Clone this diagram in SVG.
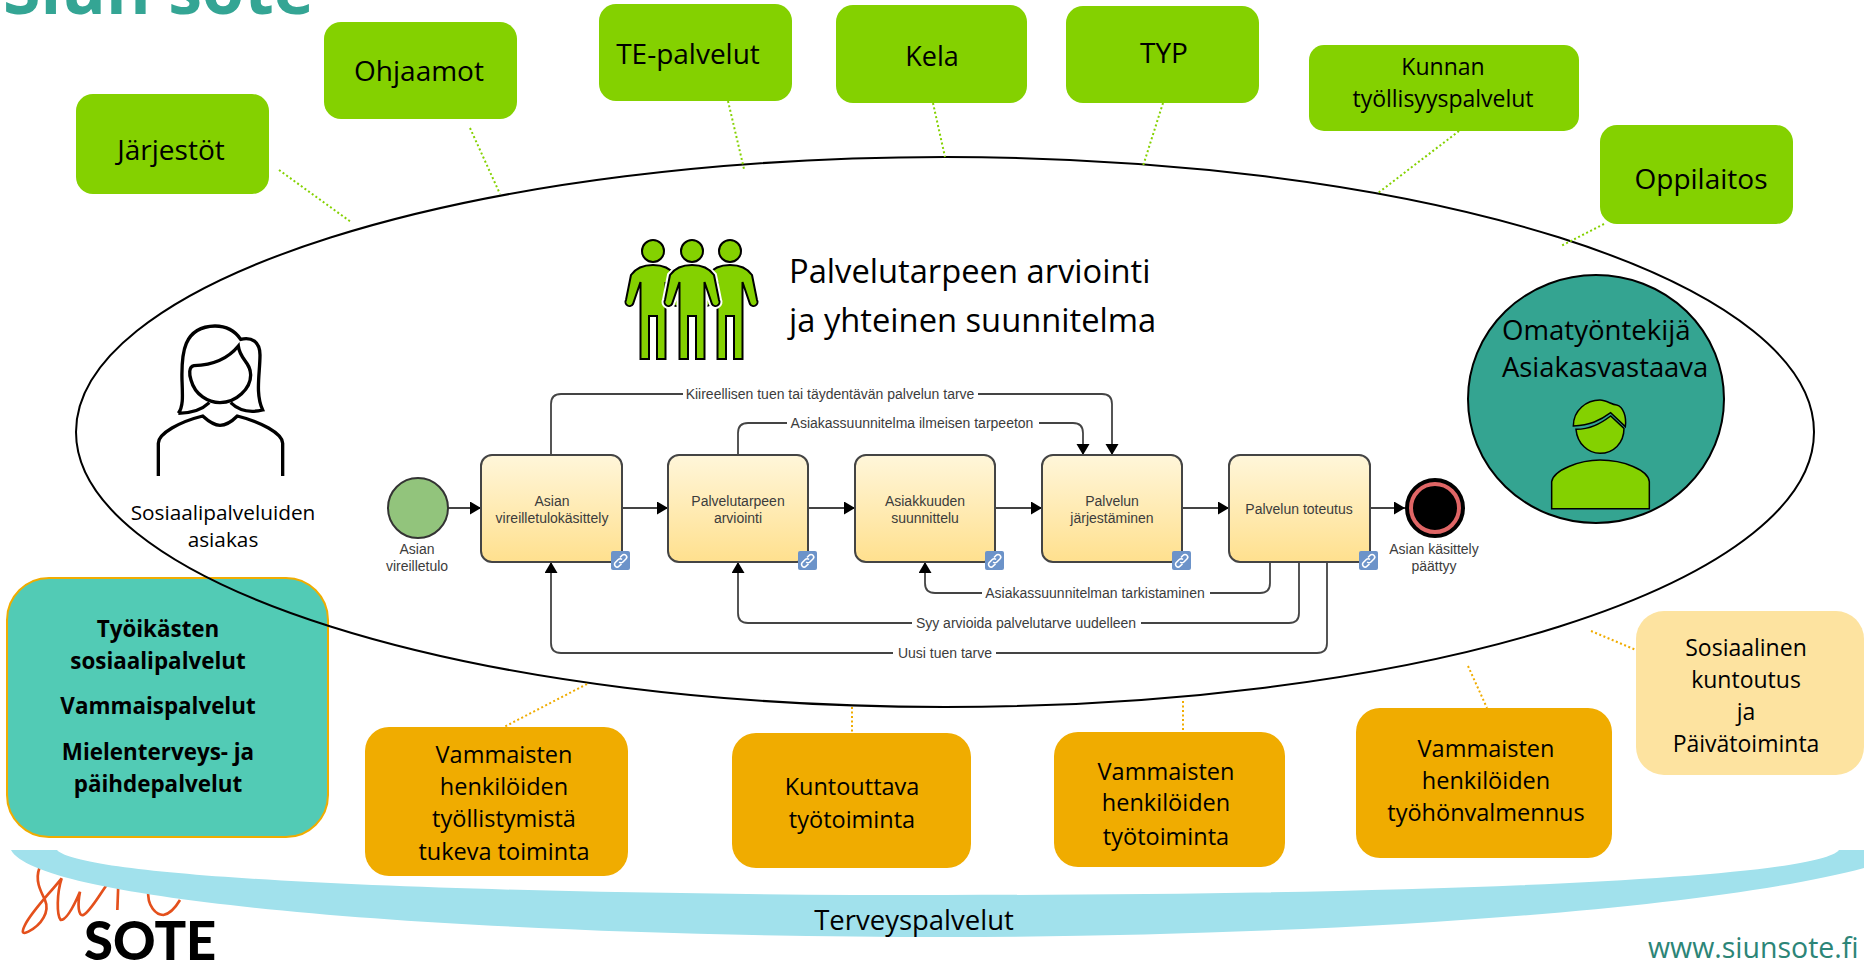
<svg xmlns="http://www.w3.org/2000/svg" width="1864" height="962" viewBox="0 0 1864 962">
<style>
.t{font-family:"Open Sans","Noto Sans",sans-serif;fill:#000;text-anchor:middle}
.p{font-family:"Liberation Sans",Arial,sans-serif;font-size:14px;fill:#3c3c3c;text-anchor:middle}
.green{fill:#84d100}.orange{fill:#f0ac00}
.dg{fill:none;stroke:#84d100;stroke-width:2;stroke-dasharray:2 2.5}
.do{fill:none;stroke:#f0ac00;stroke-width:2;stroke-dasharray:2 2.5}
.flow{fill:none;stroke:#444;stroke-width:1.8}
.task{fill:url(#tg);stroke:#444;stroke-width:2}
.icon{fill:#6c93c9}
.chain{fill:none;stroke:#fff;stroke-width:1.6}
</style>
<defs>
<linearGradient id="tg" x1="0" y1="0" x2="0" y2="1"><stop offset="0" stop-color="#fff6da"/><stop offset="1" stop-color="#ffe08e"/></linearGradient>
<marker id="a" markerUnits="userSpaceOnUse" markerWidth="12" markerHeight="14" refX="11" refY="6.5" orient="auto"><path d="M0 0L11 6.5L0 13Z" fill="#000"/></marker>
<g id="person">
<circle cx="0" cy="31" r="11"/>
<path d="M0 45Q15 45 22 55L27 80A4 4 0 0 1 20 84L12.500 62V139H4V96H-4V139H-12.500V62L-20 84A4 4 0 0 1 -27 80L-22 55Q-15 45 0 45Z"/>
</g>
<g id="link"><rect width="19" height="19" rx="2" class="icon"/><path class="chain" d="M9 6.500l2.200-2.200a2.600 2.600 0 0 1 3.700 3.700l-3 3a2.600 2.600 0 0 1-3.700 0M10.500 13l-2.500 2.200a2.600 2.600 0 0 1-3.700-3.700l3-3a2.600 2.600 0 0 1 3.700 0"/></g>
</defs>

<text id="title" x="3" y="14" font-family="'Open Sans','Noto Sans',sans-serif" font-weight="700" font-size="68" fill="#34a594">Siun sote</text>

<g id="logo">
<path transform="translate(0 800) scale(.33333)" d="M118 205C105 240 120 270 135 300C150 335 125 375 85 395C65 405 65 395 75 375C95 335 140 290 185 235C170 280 170 345 182 360C200 360 225 310 240 275C232 315 235 350 250 345C270 335 295 290 320 255M355 250L352 330M445 270C440 320 470 345 490 345C510 342 525 325 540 300" fill="none" stroke="#e4501c" stroke-width="8"/>
<text x="84" y="960" font-family="Lato,'Open Sans',sans-serif" font-weight="900" font-size="52.500" fill="#000">SOTE</text>
</g>

<g id="terveyspalvelut">
<path d="M11 850H57C85 880 500 895 945 895C1400 895 1815 880 1839 850H1864V868C1700 912 1300 937 945 937C500 937 40 905 11 850Z" fill="#a1e1ec"/>
<text class="t" x="914" y="930" font-size="27.500">Terveyspalvelut</text>
</g>
<text id="www" x="1648" y="958" font-family="'Open Sans','Noto Sans',sans-serif" font-size="28.500" fill="#2c8577">www.siunsote.fi</text>

<g id="tyoikaisten">
<rect x="7" y="578" width="321" height="259" rx="42" fill="#52cbb5" stroke="#f0ac00" stroke-width="2"/>
<g class="t" font-size="22.400" font-weight="700">
<text x="158" y="637">Työikästen</text><text x="158" y="669">sosiaalipalvelut</text><text x="158" y="714">Vammaispalvelut</text><text x="158" y="760">Mielenterveys- ja</text><text x="158" y="792">päihdepalvelut</text>
</g>
</g>

<ellipse id="arviointi-ellipse" cx="945" cy="432" rx="869" ry="275" fill="none" stroke="#000" stroke-width="2"/>

<g id="connectors">
<path class="dg" d="M279 170L351 222M470 128L500 194M728 101L744 169M933 103L945 157M1163 103L1143 166M1459 131L1378 193M1604 224L1561 246"/>
<path class="do" d="M587 684L504 727M852 707V733M1183 701V732M1468 666L1487 708M1591 631L1636 650"/>
<path class="flow" marker-end="url(#a)" d="M448 508H481"/>
<path class="flow" marker-end="url(#a)" d="M622 508H668"/>
<path class="flow" marker-end="url(#a)" d="M808 508H855"/>
<path class="flow" marker-end="url(#a)" d="M995 508H1042"/>
<path class="flow" marker-end="url(#a)" d="M1182 508H1229"/>
<path class="flow" marker-end="url(#a)" d="M1370 508H1405"/>
<path class="flow" d="M551 455V404Q551 394 561 394H683"/>
<path class="flow" marker-end="url(#a)" d="M978 394H1102Q1112 394 1112 404V455"/>
<path class="flow" d="M738 455V433Q738 423 748 423H787"/>
<path class="flow" marker-end="url(#a)" d="M1039 423H1073Q1083 423 1083 433V455"/>
<path class="flow" d="M1270 562V583Q1270 593 1260 593H1210"/>
<path class="flow" marker-end="url(#a)" d="M982 593H935Q925 593 925 583V562"/>
<path class="flow" d="M1299 562V613Q1299 623 1289 623H1141"/>
<path class="flow" marker-end="url(#a)" d="M912 623H748Q738 623 738 613V562"/>
<path class="flow" d="M1327 562V643Q1327 653 1317 653H996"/>
<path class="flow" marker-end="url(#a)" d="M893 653H561Q551 653 551 643V562"/>
</g>

<g id="flow-labels" class="p">
<text x="830" y="399">Kiireellisen tuen tai täydentävän palvelun tarve</text>
<text x="912" y="428">Asiakassuunnitelma ilmeisen tarpeeton</text>
<text x="1095" y="598">Asiakassuunnitelman tarkistaminen</text>
<text x="1026" y="628">Syy arvioida palvelutarve uudelleen</text>
<text x="945" y="658">Uusi tuen tarve</text>
</g>

<g id="start"><circle cx="418" cy="508" r="30" fill="#92c47c" stroke="#333" stroke-width="2"/>
<text class="p" x="417" y="554">Asian</text><text class="p" x="417" y="571">vireilletulo</text></g>
<g id="task1"><rect class="task" x="481" y="455" width="141" height="107" rx="11"/><text class="p" x="552" y="506">Asian</text><text class="p" x="552" y="523">vireilletulokäsittely</text><use href="#link" x="611" y="551"/></g>
<g id="task2"><rect class="task" x="668" y="455" width="140" height="107" rx="11"/><text class="p" x="738" y="506">Palvelutarpeen</text><text class="p" x="738" y="523">arviointi</text><use href="#link" x="798" y="551"/></g>
<g id="task3"><rect class="task" x="855" y="455" width="140" height="107" rx="11"/><text class="p" x="925" y="506">Asiakkuuden</text><text class="p" x="925" y="523">suunnittelu</text><use href="#link" x="985" y="551"/></g>
<g id="task4"><rect class="task" x="1042" y="455" width="140" height="107" rx="11"/><text class="p" x="1112" y="506">Palvelun</text><text class="p" x="1112" y="523">järjestäminen</text><use href="#link" x="1172" y="551"/></g>
<g id="task5"><rect class="task" x="1229" y="455" width="141" height="107" rx="11"/><text class="p" x="1299" y="514">Palvelun toteutus</text><use href="#link" x="1359" y="551"/></g>
<g id="end"><circle cx="1435" cy="508" r="28" fill="#000" stroke="#000" stroke-width="4"/><circle cx="1435" cy="508" r="24" fill="#000" stroke="#e06666" stroke-width="4"/>
<text class="p" x="1434" y="554">Asian käsittely</text><text class="p" x="1434" y="571">päättyy</text></g>

<g id="jarjestot"><rect class="green" x="76" y="94" width="193" height="100" rx="17"/><text class="t" x="171" y="160" font-size="28">Järjestöt</text></g>
<g id="ohjaamot"><rect class="green" x="324" y="22" width="193" height="97" rx="17"/><text class="t" x="419" y="81" font-size="28">Ohjaamot</text></g>
<g id="te-palvelut"><rect class="green" x="599" y="4" width="193" height="97" rx="17"/><text class="t" x="688" y="64" font-size="28">TE-palvelut</text></g>
<g id="kela"><rect class="green" x="836" y="5" width="191" height="98" rx="17"/><text class="t" x="932" y="66" font-size="27">Kela</text></g>
<g id="typ"><rect class="green" x="1066" y="6" width="193" height="97" rx="17"/><text class="t" x="1164" y="63" font-size="28">TYP</text></g>
<g id="kunnan"><rect class="green" x="1309" y="45" width="270" height="86" rx="15"/><text class="t" x="1443" y="75" font-size="23">Kunnan</text><text class="t" x="1443" y="107" font-size="23">työllisyyspalvelut</text></g>
<g id="oppilaitos"><rect class="green" x="1600" y="125" width="193" height="99" rx="17"/><text class="t" x="1701" y="189" font-size="28">Oppilaitos</text></g>

<g id="omatyontekija">
<ellipse cx="1596" cy="399" rx="128" ry="124" fill="#34a491" stroke="#000" stroke-width="2"/>
<text x="1502" y="340" font-family="'Open Sans','Noto Sans',sans-serif" font-size="27.600">Omatyöntekijä</text>
<text x="1502" y="377" font-family="'Open Sans','Noto Sans',sans-serif" font-size="27.400">Asiakasvastaava</text>
<g transform="translate(1440 260) scale(.33333)" fill="#84d100" stroke="#000" stroke-width="4.500">
<path d="M335 746V665C340 630 420 600 480 600C550 600 625 630 628 665V746Z"/>
<path d="M408 508C450 508 480 492 512 468L552 505C552 550 520 580 480 580C445 580 412 552 408 508Z"/>
<path d="M400 498C400 450 440 420 480 420C500 420 515 435 530 435C550 440 560 470 556 500L512 458C480 482 450 495 400 498Z"/>
</g>
</g>

<g id="people" fill="#84d100" stroke="#000" stroke-width="2">
<use href="#person" transform="translate(653 220)"/>
<use href="#person" transform="translate(730 220)"/>
<use href="#person" transform="translate(692 220)" stroke="#fff" stroke-width="6"/>
<use href="#person" transform="translate(692 220)"/>
</g>
<g id="palvelutarve" class="t" style="text-anchor:start" font-size="32.700"><text x="789" y="283">Palvelutarpeen arviointi</text><text x="789" y="332">ja yhteinen suunnitelma</text></g>

<g id="asiakas">
<g transform="translate(120 300) scale(.33333)" fill="none" stroke="#000" stroke-width="10">
<path d="M175 340C190 320 188 290 186 240C184 160 190 80 285 78C325 78 350 100 362 118C395 110 420 125 420 165C420 220 405 280 428 330C395 338 360 335 332 308M175 340C215 340 245 330 268 308"/>
<path d="M355 138C325 175 280 195 222 197C205 200 208 225 213 240C225 285 265 308 300 308C350 308 392 265 392 225C392 185 360 180 355 138Z"/>
<path d="M115 528V430C115 400 180 365 248 348C270 368 285 376 300 376C318 376 335 365 352 348C420 365 488 400 488 430V528"/>
</g>
<text class="t" x="223" y="520" font-size="20.800">Sosiaalipalveluiden</text><text class="t" x="223" y="547" font-size="20.800">asiakas</text>
</g>

<g id="vammaisten-tyollistymista"><rect class="orange" x="365" y="727" width="263" height="149" rx="24"/><g class="t" font-size="23.500"><text x="504" y="763">Vammaisten</text><text x="504" y="795">henkilöiden</text><text x="504" y="827">työllistymistä</text><text x="504" y="860">tukeva toiminta</text></g></g>
<g id="kuntouttava"><rect class="orange" x="732" y="733" width="239" height="135" rx="24"/><g class="t" font-size="23.500"><text x="852" y="795">Kuntouttava</text><text x="852" y="828">työtoiminta</text></g></g>
<g id="vammaisten-tyotoiminta"><rect class="orange" x="1054" y="732" width="231" height="135" rx="24"/><g class="t" font-size="23.500"><text x="1166" y="780">Vammaisten</text><text x="1166" y="811">henkilöiden</text><text x="1166" y="845">työtoiminta</text></g></g>
<g id="tyohonvalmennus"><rect class="orange" x="1356" y="708" width="256" height="150" rx="24"/><g class="t" font-size="23.500"><text x="1486" y="757">Vammaisten</text><text x="1486" y="789">henkilöiden</text><text x="1486" y="821">työhönvalmennus</text></g></g>
<g id="sosiaalinen-kuntoutus"><rect x="1636" y="611" width="228" height="164" rx="28" fill="#fde3a0"/><g class="t" font-size="23"><text x="1746" y="656">Sosiaalinen</text><text x="1746" y="688">kuntoutus</text><text x="1746" y="720">ja</text><text x="1746" y="752">Päivätoiminta</text></g></g>
</svg>
